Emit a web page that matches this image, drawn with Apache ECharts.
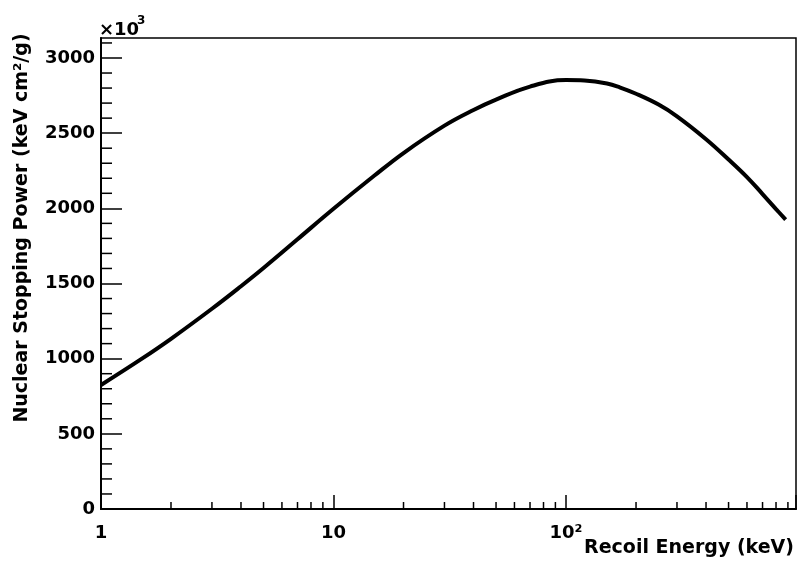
<!DOCTYPE html>
<html>
<head>
<meta charset="utf-8">
<script src="https://cdn.jsdelivr.net/npm/echarts@6/dist/echarts.min.js"></script>
<style>
    html, body { margin: 0; padding: 0; background: #ffffff; }
    #chart { width: 799px; height: 568px; }
</style>
</head>
<body>
<div id="chart"></div>
<script>
// 反冲能量 (keV)
const energy = [1, 1.5, 2, 3, 4, 5, 7, 10, 15, 20, 30, 40, 50, 70, 100, 120, 150, 170, 200, 250, 300, 400, 500, 600, 700, 800, 880]
// 核阻止本领 (x10^3 keV cm2/g)
const stopping = [825, 1000, 1132, 1332, 1482, 1603, 1794, 1997, 2218, 2368, 2550, 2654, 2723, 2810, 2853, 2850, 2830, 2805, 2762, 2690, 2612, 2460, 2325, 2208, 2095, 1995, 1925]
// 坐标轴副刻度
const xMinorTicks = [2, 3, 4, 5, 6, 7, 8, 9, 20, 30, 40, 50, 60, 70, 80, 90, 200, 300, 400, 500, 600, 700, 800, 900]
const yMinorTicks = [100, 200, 300, 400, 600, 700, 800, 900, 1100, 1200, 1300, 1400, 1600, 1700, 1800, 1900,
    2100, 2200, 2300, 2400, 2600, 2700, 2800, 2900, 3100]
const xLabels = {1: '1', 10: '10', 100: '10²'}

const font = 'DejaVu Sans'
const chart = echarts.init(document.getElementById('chart'))

// 副刻度（画在轴内侧）
const minorTick = (len, vertical) => (params, api) => {
    const p = api.coord([api.value(0), api.value(1)])
    return {
        type: 'line',
        shape: vertical
            ? {x1: p[0], y1: p[1], x2: p[0], y2: p[1] - len}
            : {x1: p[0], y1: p[1], x2: p[0] + len, y2: p[1]},
        style: {stroke: '#000', lineWidth: 1.5}
    }
}

const option = {
    backgroundColor: '#ffffff',
    animation: false,
    grid: {
        left: 101,
        right: 3,
        top: 38,
        bottom: 59,
        show: true,
        borderColor: '#000',
        borderWidth: 1.5,
        outerBoundsMode: 'none'
    },
    xAxis: {
        type: 'log',
        logBase: 10,
        min: 1,
        max: 975,
        axisLine: {lineStyle: {color: '#000', width: 2}},
        axisTick: {inside: true, length: 14, lineStyle: {color: '#000', width: 1.5}},
        splitLine: {show: false},
        axisLabel: {
            margin: 15,
            color: '#000',
            fontFamily: font,
            fontWeight: 'bold',
            fontSize: 18,
            formatter: (v) => xLabels[Math.round(v)] || ''
        }
    },
    yAxis: {
        type: 'value',
        min: 0,
        max: 3133,
        interval: 500,
        axisLine: {show: true, lineStyle: {color: '#000', width: 2}},
        axisTick: {show: true, inside: true, length: 21, lineStyle: {color: '#000', width: 1.5}},
        splitLine: {show: false},
        axisLabel: {
            margin: 6,
            color: '#000',
            fontFamily: font,
            fontWeight: 'bold',
            fontSize: 18,
            showMaxLabel: false,
            formatter: (v) => String(v)
        }
    },
    graphic: [
        {
            type: 'text', left: 99, top: 21,
            style: {text: '×10', fill: '#000', font: 'bold 18px "DejaVu Sans"'}
        },
        {
            type: 'text', left: 137, top: 15,
            style: {text: '3', fill: '#000', font: 'bold 12px "DejaVu Sans"'}
        },
        {
            type: 'text', x: 22, y: 228, rotation: Math.PI / 2,
            style: {
                text: 'Nuclear Stopping Power (keV cm²/g)', fill: '#000',
                font: 'bold 19px "DejaVu Sans"', align: 'center', verticalAlign: 'middle'
            }
        },
        {
            type: 'text', x: 794, y: 548,
            style: {
                text: 'Recoil Energy (keV)', fill: '#000',
                font: 'bold 19px "DejaVu Sans"', align: 'right', verticalAlign: 'middle'
            }
        }
    ],
    series: [
        {
            name: 'Nuclear Stopping Power',
            type: 'line',
            data: energy.map((e, i) => [e, stopping[i]]),
            smooth: 0.4,
            showSymbol: false,
            lineStyle: {color: '#000', width: 4}
        },
        {
            type: 'custom',
            silent: true,
            clip: false,
            data: xMinorTicks.map((v) => [v, 0]),
            renderItem: minorTick(7, true)
        },
        {
            type: 'custom',
            silent: true,
            clip: false,
            data: yMinorTicks.map((v) => [1, v]),
            renderItem: minorTick(11, false)
        }
    ]
}
chart.setOption(option)
</script>
</body>
</html>
